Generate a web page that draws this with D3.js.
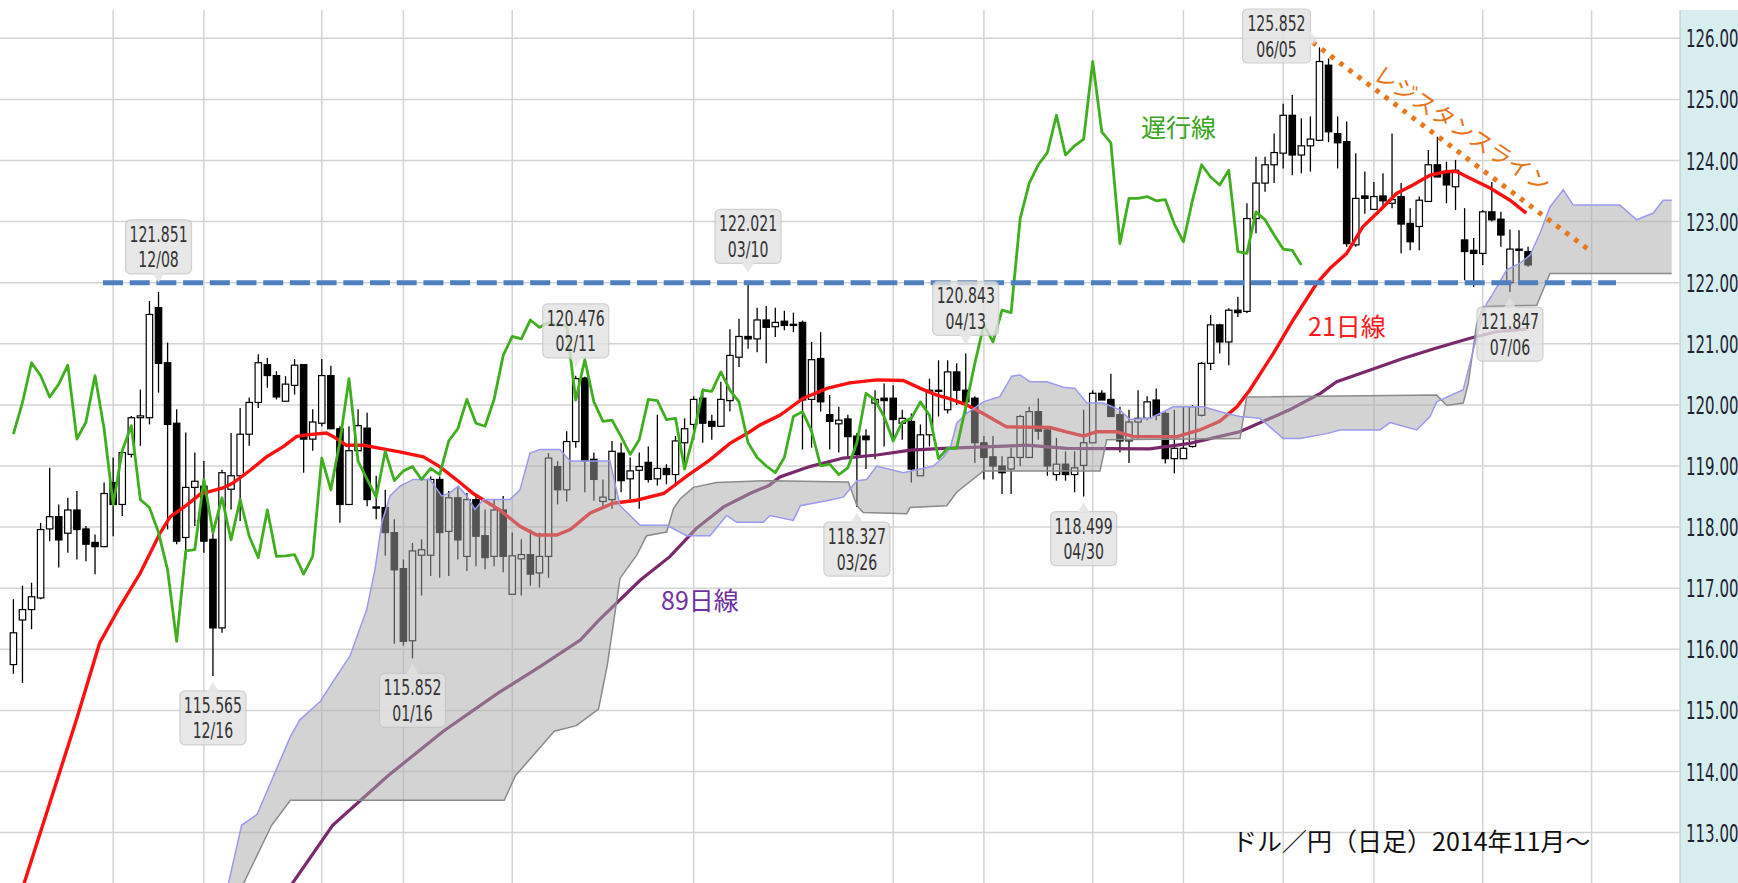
<!DOCTYPE html>
<html>
<head>
<meta charset="utf-8">
<script src="https://cdn.jsdelivr.net/npm/d3@7"></script>
<style>
  html, body { margin: 0; padding: 0; background: #fff; }
  svg { display: block; }
</style>
</head>
<body>
<div id="chart"></div>
<script>
// ---- data ----
// daily candles, index 0 = first visible day (mid Nov 2014)
const opens = [
  115.75,116.48,116.65,116.84,117.97,118.17,117.90,118.28,117.97,117.75,
  117.68,118.73,118.37,119.19,119.79,119.79,121.59,120.69,119.70,117.83,
  118.65,118.67,117.80,116.35,118.62,118.84,119.52,120.04,120.66,120.48,
  120.06,120.32,120.66,119.44,119.70,120.48,119.61,118.37,119.25,119.62,
  118.33,118.32,117.91,117.32,116.14,117.54,117.54,118.78,117.93,118.48,
  117.52,118.45,117.86,117.52,118.28,116.90,117.48,117.55,117.25,117.52,
  118.99,118.61,119.40,120.44,119.11,118.42,118.45,119.21,118.79,118.93,
  119.06,118.79,118.96,118.86,119.38,119.68,120.11,119.73,119.65,120.07,
  120.78,121.12,121.08,121.39,121.28,121.37,121.32,121.35,120.09,120.76,
  119.84,119.69,119.77,119.49,119.49,120.03,120.11,120.11,119.70,119.73,
  118.84,119.51,120.24,119.92,120.54,120.24,120.11,119.38,119.15,119.00,
  118.95,119.14,119.14,119.89,119.59,118.86,119.03,118.86,119.01,119.38,
  120.19,120.09,119.84,119.41,119.72,119.78,120.08,119.86,119.12,119.12,
  119.32,119.83,120.68,121.31,121.03,121.55,121.53,123.05,123.63,123.93,
  124.12,124.74,124.09,124.24,124.33,125.56,124.44,124.31,122.62,123.42,
  123.20,123.42,123.30,123.41,122.97,122.92,123.33,123.93,123.79,123.57,
  122.70,122.53,122.48,123.16,123.04,122.00,122.55,122.51
];
const highs = [
  116.82,117.04,117.09,118.07,118.97,118.37,118.48,118.59,118.02,117.88,
  118.73,119.14,119.24,119.82,120.25,121.70,121.851,121.02,119.93,119.55,
  119.22,119.08,117.91,118.94,119.54,119.95,120.12,120.83,120.77,120.55,
  120.47,120.75,120.66,119.93,120.75,120.64,119.65,119.65,119.93,119.87,
  118.84,118.61,118.13,117.47,117.74,117.80,118.83,118.83,118.59,118.67,
  118.56,118.51,118.29,118.45,118.51,117.91,117.80,117.96,117.91,119.21,
  119.08,119.57,120.476,120.46,119.22,118.78,119.41,119.38,119.14,119.22,
  119.32,119.84,119.03,119.49,119.78,120.14,120.27,119.84,120.38,121.24,
  121.41,122.021,121.59,121.62,121.59,121.54,121.51,121.38,121.03,121.19,
  120.16,119.97,119.84,119.54,119.60,120.24,120.35,120.32,119.92,119.86,
  119.68,120.43,120.73,120.73,120.68,120.843,120.14,119.49,119.49,119.16,
  119.30,119.84,119.97,120.11,119.62,119.46,119.24,119.24,119.92,120.24,
  120.24,120.51,119.97,119.92,120.24,120.14,120.27,119.89,119.92,119.97,
  120.00,120.70,121.47,121.33,121.58,121.77,123.30,124.06,124.06,124.44,
  124.93,125.07,124.69,124.72,125.852,125.67,124.72,124.64,124.12,123.82,
  123.65,123.79,124.44,123.63,123.22,123.41,124.17,124.39,123.98,124.01,
  123.22,122.73,123.19,123.65,123.16,122.87,122.86,122.59
];
const lows = [
  115.60,115.45,116.33,116.82,117.77,117.34,117.58,117.47,117.44,117.23,
  117.68,117.85,118.18,119.14,119.33,119.68,120.20,117.96,117.72,117.47,
  118.02,117.58,115.565,116.27,118.29,118.10,119.33,119.95,120.28,120.09,
  120.06,120.17,118.89,119.25,119.65,119.60,118.07,118.37,119.25,118.34,
  118.13,117.53,116.09,116.06,115.852,116.88,117.20,117.17,117.20,117.47,
  117.28,117.36,117.31,117.36,117.26,116.90,116.88,117.04,117.01,117.17,
  118.37,118.42,119.30,118.57,118.43,118.30,118.30,118.57,118.46,118.30,
  118.73,118.68,118.70,118.70,119.00,119.43,119.38,119.43,119.65,119.89,
  120.62,120.92,120.86,120.68,121.11,121.22,121.19,119.27,119.30,119.89,
  119.27,119.22,119.16,118.327,118.95,119.11,119.32,119.43,119.43,118.73,
  118.84,119.32,119.81,119.86,120.00,119.86,119.05,118.78,118.78,118.54,
  118.54,119.00,119.14,119.43,118.84,118.76,118.76,118.57,118.499,119.38,
  120.08,119.81,119.22,119.05,119.43,119.75,119.75,119.04,118.88,119.12,
  119.30,119.81,120.57,120.84,120.65,121.44,121.50,122.81,123.49,123.63,
  123.87,123.76,123.79,123.82,124.33,124.30,123.87,122.59,122.59,123.13,
  123.19,123.22,123.22,122.48,122.53,122.53,123.33,123.73,123.30,123.19,
  122.04,121.93,122.29,123.00,122.59,121.847,122.02,122.26
];
const closes = [
  116.27,116.65,116.86,117.96,118.17,117.79,118.28,117.96,117.72,117.68,
  118.55,118.37,119.22,119.79,119.82,121.48,120.68,119.68,117.77,118.65,
  118.75,117.77,116.35,118.89,118.84,119.52,120.04,120.69,120.48,120.13,
  120.34,120.65,119.44,119.72,120.48,119.61,118.37,119.25,119.66,118.45,
  118.32,117.91,117.30,116.13,117.61,117.63,118.78,117.91,118.48,117.79,
  118.45,117.85,117.50,118.28,117.52,117.53,117.55,117.23,117.52,119.13,
  118.61,119.40,120.43,119.08,118.78,118.49,119.24,118.76,118.92,118.99,
  118.78,118.96,118.86,119.41,119.61,120.09,119.70,119.65,120.09,120.81,
  121.12,121.08,121.39,121.27,121.35,121.30,121.30,120.08,120.74,120.05,
  119.73,119.75,119.48,119.19,119.43,120.09,120.07,119.76,119.78,118.95,
  119.51,120.24,120.22,120.54,120.24,120.05,119.38,119.14,119.00,118.89,
  119.14,119.81,119.89,119.57,119.00,119.03,118.86,118.97,119.38,120.19,
  120.08,119.81,119.41,119.72,119.78,120.05,119.83,119.12,119.29,119.29,
  119.97,120.68,121.31,121.03,121.55,121.51,123.05,123.63,123.93,124.13,
  124.74,124.09,124.24,124.35,125.62,124.47,124.29,122.64,123.38,123.38,
  123.41,123.34,123.36,122.96,122.67,123.35,123.93,123.73,123.60,123.84,
  122.51,122.48,123.16,123.03,122.78,122.55,122.53,122.29
];

// moving averages, [day index, price]
const ma21 = [
  [0,111.6],[1.2,112.18],[7.0,114.87],[9.5,116.10],[11.75,116.70],[13.96,117.24],
  [16.16,117.90],[17.3,118.17],[19.1,118.36],[20.6,118.54],[23.1,118.64],[24.2,118.72],
  [26.1,118.93],[27.9,119.15],[29.8,119.32],[31.2,119.48],[32.3,119.51],[34.5,119.54],
  [35.3,119.48],[36.7,119.34],[38.6,119.34],[41.5,119.26],[42.6,119.23],[45.2,119.15],
  [47.0,118.99],[48.9,118.77],[50.7,118.55],[53.6,118.28],[55.9,118.01],[57.7,117.87],
  [59.9,117.87],[61.4,117.96],[63.6,118.23],[66.1,118.39],[68.7,118.44],[71.7,118.55],
  [74.2,118.83],[76.8,119.10],[79.0,119.37],[81.2,119.56],[82.3,119.67],[84.5,119.83],
  [87.1,120.11],[89.7,120.27],[92.2,120.36],[95.2,120.41],[98.1,120.40],[100,120.27],
  [101.8,120.16],[103.3,120.10],[105.1,120.0],[106.9,119.86],[109.5,119.64],[114.3,119.63],
  [116.1,119.56],[118.0,119.49],[119.4,119.56],[121.6,119.56],[123.5,119.48],[128.3,119.48],
  [130.8,119.59],[133.0,119.73],[134.9,119.97],[136.3,120.24],[138.9,120.84],[141.1,121.39],
  [143.7,121.99],[145.2,122.24],[147,122.48],[148.8,122.92],[150.7,123.19],[152.5,123.46],
  [154.3,123.60],[156.2,123.76],[158.0,123.82],[159.1,123.82],[160.6,123.71],[162.8,123.55],
  [165.0,123.35],[166.8,123.14]
];
const ma89 = [
  [29.5,111.9],[35.2,113.12],[41.3,113.93],[47.4,114.66],[53.5,115.29],[58.1,115.72],
  [62.5,116.15],[64.5,116.47],[69.1,117.13],[72.4,117.52],[75.3,117.98],[78.3,118.33],
  [81.2,118.55],[83.3,118.68],[84.5,118.82],[87.8,118.99],[91.5,119.13],[95.2,119.18],
  [98.9,119.26],[102.5,119.29],[111.7,119.34],[116.1,119.29],[125.3,119.28],[129.7,119.37],
  [135.2,119.56],[140.7,119.92],[144.1,120.19],[145.9,120.38],[149.6,120.57],[153.2,120.76],
  [156.9,120.93],[160.6,121.09],[163.5,121.20],[166.8,121.24]
];

// ichimoku cloud edges, [day index, price]
const spanA = [
  [23.3,111.9],[25.16,113.12],[26.87,113.30],[30.54,114.57],[31.6,114.85],[33.8,115.14],
  [35.27,115.48],[37.11,115.89],[38.95,116.65],[39.87,117.31],[40.61,118.07],[41.52,118.51],
  [42.62,118.67],[44.09,118.78],[45.93,118.78],[47.22,118.51],[48.14,118.56],[49.05,118.67],
  [49.98,118.51],[50.89,118.29],[51.81,118.45],[54.75,118.45],[55.85,118.61],[56.96,119.21],
  [58.06,119.27],[60.26,119.27],[61.37,119.08],[65.78,119.08],[66.88,118.35],[69.09,118.03],
  [72.03,118.03],[74.23,117.86],[76.8,117.86],[78.64,118.19],[79.75,118.08],[82.68,118.08],
  [83.42,118.19],[85.99,118.11],[86.76,118.35],[89.67,118.43],[91.5,118.49],[93.0,118.76],
  [94.08,118.78],[95.18,119.0],[98.12,118.89],[101.42,119.0],[102.52,119.14],[103.3,119.3],
  [104.0,119.70],[105.1,119.86],[106.94,120.05],[108.78,120.14],[110.07,120.47],[110.98,120.49],
  [112.08,120.38],[113.93,120.38],[115.76,120.29],[117.05,120.27],[118.34,120.03],[120.17,120.03],
  [122.0,119.92],[123.1,119.76],[125.3,119.78],[126.4,119.86],[127.88,119.97],[131.19,119.97],
  [133.77,119.86],[135.24,119.81],[137.44,119.78],[140.01,119.45],[141.85,119.45],[144.8,119.53],
  [146.26,119.59],[150.67,119.59],[151.77,119.71],[154.72,119.59],[156.19,119.81],[156.92,120.05],
  [159.85,120.25],[160.59,120.68],[161.33,121.12],[162.43,121.66],[163.17,121.83],[164.64,122.21],
  [166.11,122.32],[167.21,122.45],[168.31,122.81],[169.41,123.24],[170.88,123.52],[171.98,123.27],
  [177.12,123.27],[178.97,123.03],[180.8,123.14],[181.9,123.35],[182.83,123.35]
];
const spanB = [
  [24.5,111.9],[28.47,113.12],[30.54,113.53],[54.12,113.53],[55.35,113.93],[59.63,114.66],
  [62.07,114.75],[64.51,115.02],[65.49,115.75],[66.88,117.16],[68.72,117.54],[69.82,117.86],
  [72.03,117.92],[72.76,118.30],[73.5,118.46],[74.96,118.65],[77.54,118.73],[83.42,118.76],
  [92.05,118.74],[93.0,118.35],[93.7,118.24],[98.5,118.22],[98.85,118.32],[102.9,118.35],
  [104.0,118.57],[106.94,118.92],[119.8,118.92],[120.54,119.43],[135.24,119.45],[135.97,120.13],
  [156.92,120.16],[158.03,119.99],[159.85,120.03],[160.4,120.35],[161.33,121.33],[162.06,121.61],
  [167.95,121.63],[169.41,122.15],[182.83,122.15]
];

const laggingShift = 25;                       // 遅行線 = close drawn 25 days back
const priceTicks = [113,114,115,116,117,118,119,120,121,122,123,124,125,126];
const gridDays = [11,21,34,43,55,75,97,107,119,129,140,150,162,174];
const supportLevel = 122.0;
const resistance = [[144,126.0],[173.5,122.56]];

const callouts = [
  {i:16,  price:121.851, date:"12/08", side:"above"},
  {i:22,  price:115.565, date:"12/16", side:"below"},
  {i:44,  price:115.852, date:"01/16", side:"below"},
  {i:62,  price:120.476, date:"02/11", side:"above"},
  {i:81,  price:122.021, date:"03/10", side:"above"},
  {i:93,  price:118.327, date:"03/26", side:"below"},
  {i:105, price:120.843, date:"04/13", side:"above"},
  {i:118, price:118.499, date:"04/30", side:"below"},
  {i:144, price:125.852, date:"06/05", side:"left"},
  {i:165, price:121.847, date:"07/06", side:"below"}
];

// ---- layout ----
const W = 1738, H = 883;
const plot = { left: 0, right: 1680, top: 10, bottom: 883 };

const x = d3.scaleLinear().domain([0, 167]).range([13.4, 13.4 + 9.07 * 167]);
const y = d3.scaleLinear().domain([113, 126]).range([832.6, 38.3]);

const svg = d3.select("#chart").append("svg")
  .attr("width", W).attr("height", H)
  .style("font-family", "'DejaVu Sans', sans-serif");

svg.append("rect").attr("width", W).attr("height", H).attr("fill", "#fff");

const defs = svg.append("defs");
defs.append("clipPath").attr("id", "plot-clip")
  .append("rect")
  .attr("x", plot.left).attr("y", plot.top)
  .attr("width", plot.right - plot.left).attr("height", plot.bottom - plot.top);

// axis panel
svg.append("rect")
  .attr("x", plot.right).attr("y", plot.top)
  .attr("width", W - plot.right).attr("height", H - plot.top)
  .attr("fill", "#d6eef0");
svg.append("line")
  .attr("x1", plot.right).attr("x2", plot.right)
  .attr("y1", plot.top).attr("y2", H)
  .attr("stroke", "#b8c4c6").attr("stroke-width", 1);

const g = svg.append("g").attr("clip-path", "url(#plot-clip)");

// grid
g.append("g").selectAll("line").data(priceTicks).join("line")
  .attr("x1", plot.left).attr("x2", plot.right)
  .attr("y1", d => y(d)).attr("y2", d => y(d))
  .attr("stroke", "#d4d4d4").attr("stroke-width", 1.5);
g.append("g").selectAll("line").data(gridDays).join("line")
  .attr("x1", d => x(d)).attr("x2", d => x(d))
  .attr("y1", plot.top).attr("y2", plot.bottom)
  .attr("stroke", "#d4d4d4").attr("stroke-width", 1.5);

// candles
const candles = d3.range(opens.length).map(i => ({
  i, o: opens[i], h: highs[i], l: lows[i], c: closes[i]
}));
const bodyW = 6.4;
const cg = g.append("g");
cg.selectAll("line").data(candles).join("line")
  .attr("x1", d => x(d.i)).attr("x2", d => x(d.i))
  .attr("y1", d => y(d.h)).attr("y2", d => y(d.l))
  .attr("stroke", "#000").attr("stroke-width", 1.3);
cg.selectAll("rect").data(candles).join("rect")
  .attr("x", d => x(d.i) - bodyW / 2)
  .attr("y", d => y(Math.max(d.o, d.c)))
  .attr("width", bodyW)
  .attr("height", d => Math.max(1.2, Math.abs(y(d.o) - y(d.c))))
  .attr("fill", d => d.c >= d.o ? "#fff" : "#000")
  .attr("stroke", "#000").attr("stroke-width", 1.2);

// moving averages
const line = d3.line().x(d => x(d[0])).y(d => y(d[1]));
g.append("path").datum(ma89).attr("d", line)
  .attr("fill", "none").attr("stroke", "#7a2a6c").attr("stroke-width", 3.2);
g.append("path").datum(ma21).attr("d", line)
  .attr("fill", "none").attr("stroke", "#ff1010").attr("stroke-width", 3.4);

// cloud (semi transparent, drawn over candles and averages)
const cloudPts = spanA.concat(spanB.slice().reverse());
g.append("path")
  .attr("d", "M" + cloudPts.map(d => [x(d[0]), y(d[1])].join(",")).join("L") + "Z")
  .attr("fill", "#a8a8a8").attr("fill-opacity", 0.5);
g.append("path").datum(spanB).attr("d", line)
  .attr("fill", "none").attr("stroke", "#8a8a8a").attr("stroke-width", 1.5);
g.append("path").datum(spanA).attr("d", line)
  .attr("fill", "none").attr("stroke", "#9a9af0").attr("stroke-width", 1.5);

// lagging span
const lagging = closes.slice(laggingShift).map((c, k) => [k, c]);
g.append("path").datum(lagging).attr("d", line)
  .attr("fill", "none").attr("stroke", "#3fae1f").attr("stroke-width", 2.8)
  .attr("stroke-linejoin", "round");

// horizontal support line
g.append("line")
  .attr("x1", 103).attr("x2", 1616)
  .attr("y1", y(supportLevel)).attr("y2", y(supportLevel))
  .attr("stroke", "#4f7fbf").attr("stroke-width", 5)
  .attr("stroke-dasharray", "20,6.7");

// resistance line (dotted)
g.append("line")
  .attr("x1", x(resistance[0][0]) - 7).attr("y1", y(resistance[0][1]) + 4)
  .attr("x2", x(resistance[1][0])).attr("y2", y(resistance[1][1]))
  .attr("stroke", "#e8781c").attr("stroke-width", 5)
  .attr("stroke-dasharray", "4.5,6.8");

// squeezed text (the source chart was narrowed horizontally)
function squeezed(parent, px, py, str, sx, size, color, anchor) {
  parent.append("g")
    .attr("transform", `translate(${px},${py}) scale(${sx},1)`)
    .append("text")
    .attr("text-anchor", anchor || "middle")
    .attr("font-size", size)
    .attr("fill", color)
    .text(str);
}

// callouts
const boxW = 66, boxH = 54;
const cl = svg.append("g");
callouts.forEach(d => {
  const cx = x(d.i);
  let left, top, tri;
  if (d.side === "above") {
    const bottom = y(d.price) - 18;
    top = bottom - boxH; left = cx - boxW / 2;
    tri = [[cx - 6, bottom - 0.5], [cx + 6, bottom - 0.5], [cx, bottom + 9]];
  } else if (d.side === "below") {
    top = y(d.price) + 15; left = cx - boxW / 2;
    tri = [[cx - 6, top + 0.5], [cx + 6, top + 0.5], [cx, top - 9]];
  } else {
    const right = cx - 9;
    left = right - 68; top = 9;
    tri = [[right - 0.5, 31], [right - 0.5, 46], [right + 7, 41]];
  }
  const w = d.side === "left" ? 68 : boxW;
  const box = cl.append("g").attr("opacity", 0.82);
  box.append("rect")
    .attr("x", left).attr("y", top).attr("width", w).attr("height", boxH)
    .attr("rx", 5).attr("fill", "#e2e2e2").attr("stroke", "#c6c6c6").attr("stroke-width", 1.2);
  box.append("path")
    .attr("d", "M" + tri.map(p => p.join(",")).join("L") + "Z")
    .attr("fill", "#e2e2e2").attr("stroke", "none");
  squeezed(cl, left + w / 2, top + 22, d.price.toFixed(3), 0.64, 22, "#333");
  squeezed(cl, left + w / 2, top + 47.5, d.date, 0.64, 22, "#333");
});

// annotations
const jp = "'Noto Sans CJK JP', sans-serif";
svg.append("text").attr("x", 1141).attr("y", 137)
  .attr("font-family", jp).attr("font-size", 25).attr("fill", "#3aa51c").text("遅行線");
svg.append("text").attr("x", 1308).attr("y", 336)
  .attr("font-family", jp).attr("font-size", 25).attr("fill", "#ff1a1a").text("21日線");
svg.append("text").attr("x", 661).attr("y", 610)
  .attr("font-family", jp).attr("font-size", 25).attr("fill", "#7030a0").text("89日線");
svg.append("text")
  .attr("transform", "translate(1372,78) rotate(34)")
  .attr("font-family", jp).attr("font-size", 23).attr("fill", "#e8741a")
  .text("レジスタンスライン");
svg.append("text").attr("x", 1232).attr("y", 851)
  .attr("font-family", jp).attr("font-size", 25).attr("fill", "#111")
  .text("ドル／円（日足）2014年11月〜");

// price axis labels
priceTicks.forEach(p => {
  squeezed(svg, 1686, y(p) + 9, p.toFixed(2), 0.6, 25, "#1e2230", "start");
});
</script>
</body>
</html>
